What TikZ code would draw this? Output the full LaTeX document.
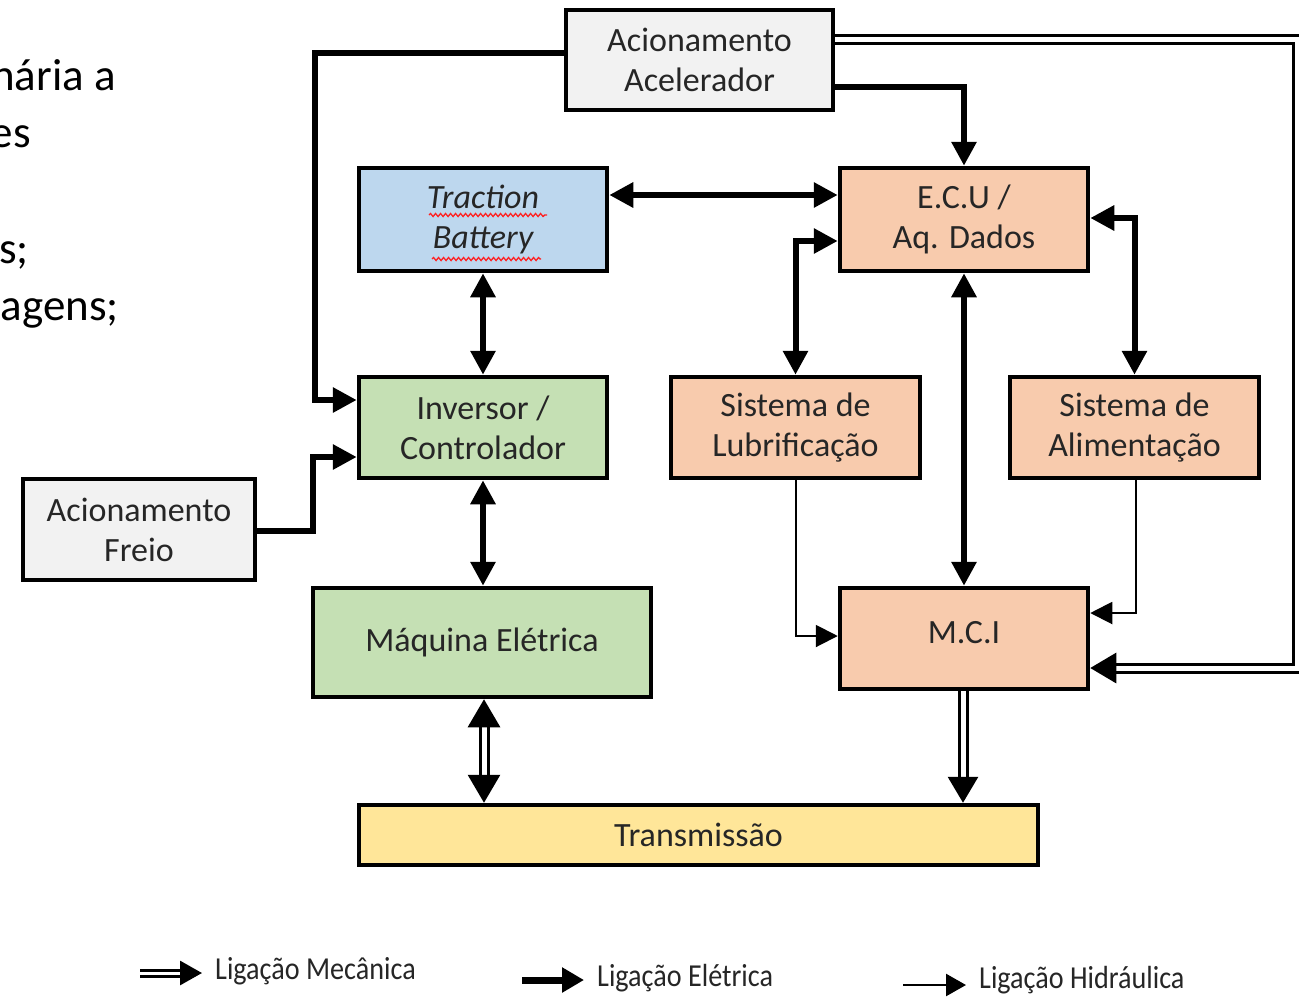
\documentclass[tikz,border=0pt]{standalone}
\usepackage{fontspec}
\setmainfont{Carlito}
\usetikzlibrary{arrows.meta,decorations.pathmorphing}
\definecolor{cgray}{HTML}{F2F2F2}
\definecolor{cblue}{HTML}{BDD7EE}
\definecolor{corange}{HTML}{F8CBAD}
\definecolor{cgreen}{HTML}{C5E0B4}
\definecolor{cyellow}{HTML}{FFE699}
\definecolor{wavyred}{HTML}{FF2020}
\definecolor{txtgray}{HTML}{262626}
\begin{document}
\begin{tikzpicture}[x=1pt,y=-1pt,
  blk/.style={draw=black, line width=4.5pt, align=center, inner sep=0pt,
    text=txtgray, font=\fontsize{34}{40}\selectfont},
  elec/.style={line width=6pt, -{Triangle[length=24pt,width=24pt]}},
  elec2/.style={line width=6pt, {Triangle[length=24pt,width=24pt]}-{Triangle[length=24pt,width=24pt]}},
  hyd/.style={line width=2pt, -{Triangle[length=22pt,width=22pt]}},
  mech/.style={double, line width=3pt, double distance=5pt, -{Triangle[length=26pt,width=30pt]}},
  mech2/.style={double, line width=3pt, double distance=5pt, {Triangle[length=28pt,width=32pt]}-{Triangle[length=28pt,width=32pt]}},
  legtxt/.style={anchor=west, inner sep=0pt, text=txtgray, font=\fontsize{32}{34}\selectfont},
  bodytxt/.style={anchor=base east, inner sep=0pt, font=\fontsize{45}{50}\selectfont},
  wavy/.style={draw=wavyred, line width=1.3pt, decorate, decoration={snake, amplitude=1.5pt, segment length=5pt}}
]
\useasboundingbox (0,0) rectangle (1299,997);
\fill[white] (0,0) rectangle (1299,997);

% body text cut at left edge
\begin{scope}
\clip (0,0) rectangle (1299,997);
\node[bodytxt] (t1) at (116,90) {nária a};
\node[bodytxt] (t2) at (31,147) {es};
\node[bodytxt] (t3) at (29,263) {s;};
\node[bodytxt] (t4) at (119,320) {agens;};
\end{scope}

% boxes
\node[blk, fill=cgray, minimum width=267pt, minimum height=100pt] (acel) at (699.5,60) {Acionamento\\Acelerador};
\node[blk, fill=cblue, minimum width=248pt, minimum height=103pt] (batt) at (483,219.5) {\itshape Traction\\\itshape Battery};
\node[blk, fill=corange, minimum width=248pt, minimum height=103pt] (ecu) at (964,219.5) {E.C.U /\\Aq. Dados};
\node[blk, fill=cgreen, minimum width=248pt, minimum height=101pt] (inv) at (483,427.5) {Inversor /\\Controlador};
\node[blk, fill=corange, minimum width=249pt, minimum height=101pt] (lub) at (795.5,427.5) {Sistema de\\Lubrificação};
\node[blk, fill=corange, minimum width=249pt, minimum height=101pt] (alim) at (1134.5,427.5) {Sistema de\\Alimentação};
\node[blk, fill=cgray, minimum width=232pt, minimum height=101pt] (freio) at (139,529.5) {Acionamento\\Freio};
\node[blk, fill=cgreen, minimum width=338pt, minimum height=109pt] (maq) at (482,642.5) {Máquina Elétrica};
\node[blk, fill=corange, minimum width=248pt, minimum height=101pt, text depth=12pt] (mci) at (964,638.5) {M.C.I};
\node[blk, fill=cyellow, minimum width=679pt, minimum height=60pt] (trans) at (698.5,835) {Transmissão};

% wavy underlines
\draw[wavy] (429,215) -- (547,215);
\draw[wavy] (432,259) -- (541,259);

% electric connectors
\coordinate (k1) at (315,53);
\coordinate (k2) at (315,400);
\draw[elec] (acel.west |- k1) -- (k1) -- (k2) -- (inv.west |- k2);
\coordinate (k3) at (966,87);
\draw[elec] (acel.east |- k3) -| (ecu.north);
\coordinate (k4) at (313,531);
\coordinate (k5) at (313,457);
\draw[elec] (freio.east |- k4) -- (k4) -- (k5) -- (inv.west |- k5);
\coordinate (k6) at (0,195);
\draw[elec2] (batt.east |- k6) -- (ecu.west |- k6);
\draw[elec2] (batt.south) -- (inv.north);
\draw[elec2] (inv.south) -- (inv.south |- maq.north);
\coordinate (k7) at (793,241);
\draw[elec2] (ecu.west |- k7) -| (lub.north);
\coordinate (k8) at (1135,218);
\draw[elec2] (ecu.east |- k8) -| (alim.north);
\draw[elec2] (ecu.south) -- (mci.north);

% hydraulic connectors
\coordinate (k9) at (796,636);
\draw[hyd] (lub.south -| k9) -- (k9) -- (mci.west |- k9);
\coordinate (k10) at (1136,613);
\draw[hyd] (alim.south -| k10) -- (k10) -- (mci.east |- k10);

% mechanical connectors
\coordinate (k11) at (1297,39);
\coordinate (k12) at (1297,668);
\draw[mech] (acel.east |- k11) -- (k11) -- (k12) -- (mci.east |- k12);
\coordinate (k13) at (484,0);
\draw[mech2] (maq.south -| k13) -- (trans.north -| k13);
\coordinate (k14) at (963,0);
\draw[mech] (mci.south -| k14) -- (trans.north -| k14);

% legend
\coordinate (l1a) at (140,973);
\coordinate (l1b) at (202,973);
\draw[double, line width=3pt, double distance=3pt, -{Triangle[length=22pt,width=24pt]}] (l1a) -- (l1b);
\node[legtxt] (l1t) at (215,971) {\scalebox{0.88}[1]{Ligação Mecânica}};
\coordinate (l2a) at (522,980);
\coordinate (l2b) at (584,980);
\draw[line width=7pt, -{Triangle[length=22pt,width=24pt]}] (l2a) -- (l2b);
\node[legtxt] (l2t) at (597,978) {\scalebox{0.88}[1]{Ligação Elétrica}};
\coordinate (l3a) at (903,985);
\coordinate (l3b) at (966,985);
\draw[line width=2.5pt, -{Triangle[length=20pt,width=22pt]}] (l3a) -- (l3b);
\node[legtxt] (l3t) at (979,980) {\scalebox{0.88}[1]{Ligação Hidráulica}};
\end{tikzpicture}
\end{document}
